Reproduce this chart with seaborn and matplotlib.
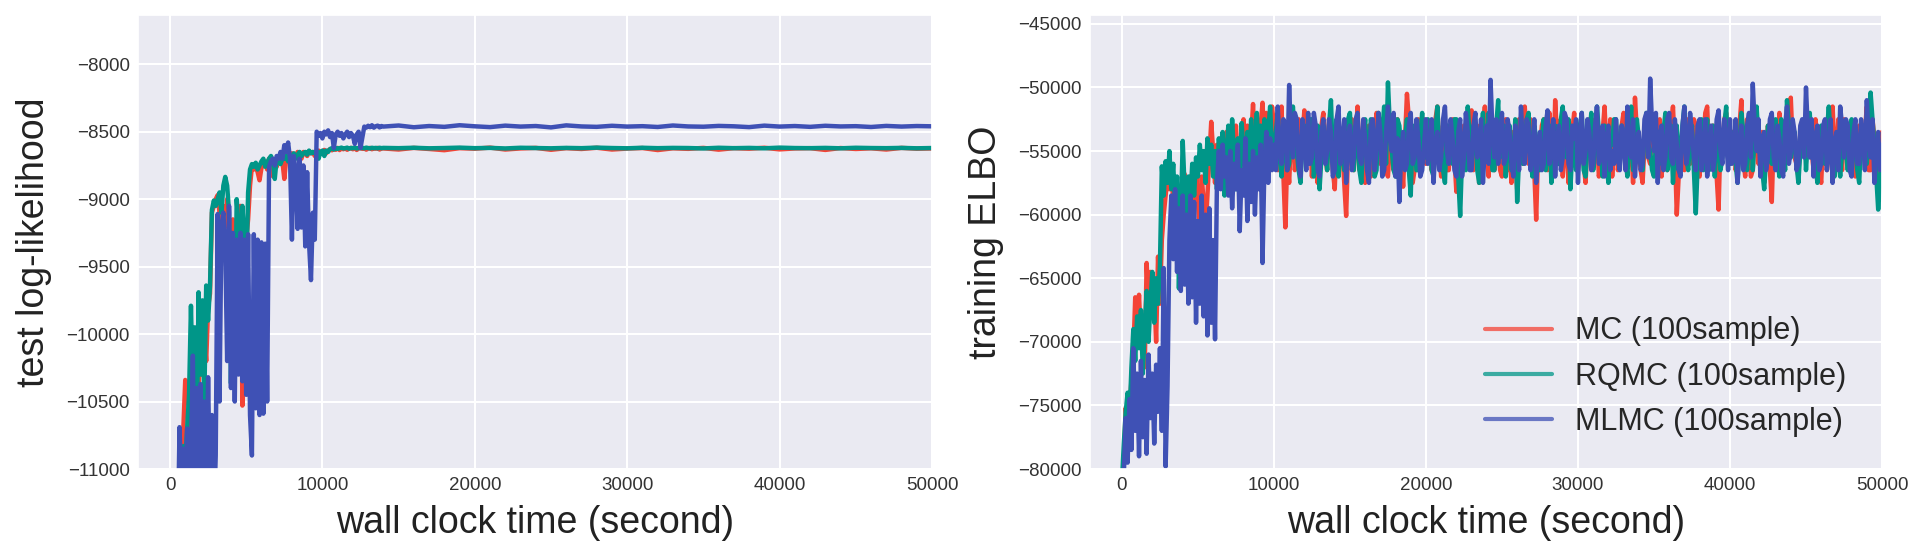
import numpy as np
import pandas as pd
import matplotlib
matplotlib.use("Agg")
import matplotlib.pyplot as plt
from matplotlib.lines import Line2D
import seaborn as sns

# ---------------- data ----------------
methods = ["MC (100sample)", "RQMC (100sample)", "MLMC (100sample)"]
colors = ["#F44336", "#009688", "#3F51B5"]

# left panel: test log-likelihood (time grid: 500..13875 step 125, then 14000..50000 step 1000)
t_left = np.concatenate([np.arange(500, 14000, 125), np.arange(14000, 50001, 1000)])

ll_mc = [-11500, -11300, -10950, -10700, -10340, -10360, -10550, -10800,
         -10500, -10650, -10200, -10400, -10100, -10300, -10000, -10200,
         -9800, -9700, -9100, -9050, -9000, -8970, -9100, -9400,
         -9050, -9200, -9000, -9300, -9500, -9150, -9800, -9400,
         -9250, -9050, -10530, -9700, -9300, -9150, -8900, -8760,
         -8780, -8750, -8800, -8860, -8770, -8740, -8720, -8780,
         -8700, -8740, -8830, -8720, -8760, -8700, -8680, -8720,
         -8850, -8700, -8690, -8720, -8660, -8700, -8680, -8650,
         -8660, -8700, -8650, -8660, -8680, -8645, -8660, -8650,
         -8680, -8650, -8640, -8660, -8650, -8635, -8660, -8640,
         -8630, -8638, -8625, -8634, -8620, -8636, -8624, -8630,
         -8622, -8634, -8625, -8620, -8630, -8622, -8635, -8624,
         -8620, -8627, -8622, -8633, -8625, -8620, -8630, -8622,
         -8626, -8620, -8632, -8624,
         -8624, -8632, -8620, -8628, -8637, -8622, -8626, -8618, -8632, -8624,
         -8620, -8634, -8622, -8628, -8619, -8632, -8625, -8621, -8636, -8623,
         -8627, -8620, -8633, -8622, -8626, -8619, -8631, -8624, -8622, -8635,
         -8621, -8628, -8623, -8632, -8620, -8626, -8624]

ll_rqmc = [-11400, -11100, -10880, -10830, -10950, -10700, -10450, -9790,
           -10450, -9950, -10850, -9690, -10300, -9750, -10500, -9640,
           -9900, -9640, -9080, -9010, -9050, -9000, -8950, -9100,
           -8900, -8835, -8900, -9100, -10365, -9400, -10300, -9000,
           -9200, -10250, -9050, -9300, -9600, -8950, -8780, -8740,
           -8760, -8730, -8780, -8750, -8720, -8700, -8760, -8730,
           -8700, -8680, -8720, -8850, -8700, -8690, -8740, -8700,
           -8700, -8680, -8720, -8670, -8690, -8660, -8700, -8670,
           -8650, -8680, -8660, -8650, -8670, -8640, -8660, -8650,
           -8660, -8640, -8700, -8650, -8640, -8680, -8640, -8650,
           -8628, -8622, -8632, -8620, -8627, -8622, -8618, -8624,
           -8622, -8618, -8626, -8620, -8622, -8617, -8624, -8620,
           -8622, -8619, -8623, -8618, -8621, -8624, -8619, -8622,
           -8620, -8623, -8619, -8622,
           -8620, -8622, -8619, -8623, -8621, -8618, -8622, -8620, -8624, -8619,
           -8621, -8623, -8620, -8622, -8618, -8621, -8623, -8619, -8622, -8620,
           -8621, -8624, -8619, -8622, -8620, -8623, -8618, -8621, -8622, -8620,
           -8623, -8619, -8621, -8622, -8620, -8623, -8621]

ll_mlmc = [-11600, -10690, -11200, -10850, -11300, -10700, -11100, -10900,
           -10160, -11400, -10400, -11200, -10370, -11300, -10500, -11400,
           -10320, -11200, -10600, -11400, -10900, -9110, -10500, -9200,
           -9100, -9350, -10200, -9050, -10400, -9250, -10500, -9300,
           -10300, -9250, -10350, -9300, -10450, -9260, -10600, -10900,
           -9260, -10550, -9300, -10600, -9320, -10590, -9330, -10500,
           -8760, -8720, -8700, -8750, -8680, -8700, -8650, -8700,
           -8600, -8650, -8580, -8700, -9300, -8680, -8800, -9220,
           -8700, -9210, -8750, -9350, -8800, -9330, -9600, -9100,
           -9300, -8500, -8530, -8510, -8550, -8500, -8520, -8490,
           -8540, -8510, -8620, -8520, -8500, -8530, -8510, -8550,
           -8520, -8500, -8540, -8510, -8530, -8590, -8520, -8500,
           -8620, -8540, -8462, -8470, -8456, -8466, -8452, -8470,
           -8460, -8455, -8468, -8458,
           -8462, -8454, -8467, -8458, -8464, -8452, -8460, -8466, -8455, -8462,
           -8458, -8468, -8453, -8461, -8464, -8456, -8462, -8459, -8465, -8454,
           -8461, -8463, -8457, -8460, -8466, -8455, -8462, -8458, -8464, -8456,
           -8461, -8459, -8465, -8457, -8462, -8458, -8460]

# right panel: training ELBO in thousands.
# early part: t = 0..9875 step 125 (80 values)
# band part: t = 10000..50000 step 250 (161 values) plus the in-between samples
#            at t = 10125..49875 step 250 (160 values)
t_right = np.concatenate([np.arange(0, 10000, 125), np.arange(10000, 50001, 125)])

elbo_mc_early_k = [-82.0, -79.5, -75.2, -77.0, -75.5, -73.0, -71.0, -66.5,
                   -69.0, -66.3, -70.0, -68.0, -72.0, -63.8, -67.0, -64.5,
                   -68.0, -66.0, -70.0, -63.3, -67.0, -62.0, -60.0, -58.5,
                   -57.0, -58.0, -56.5, -59.0, -57.5, -60.5, -58.0, -61.0,
                   -59.0, -56.8, -60.0, -57.5, -59.5, -61.0, -58.0, -56.0,
                   -59.0, -61.5, -57.0, -59.0, -61.2, -58.5, -55.5, -52.7,
                   -55.0, -57.5, -54.5, -56.0, -54.0, -57.0, -55.0, -53.5,
                   -56.5, -54.0, -58.0, -55.0, -53.0, -56.0, -57.5, -54.5,
                   -52.5, -55.5, -53.0, -56.0, -54.0, -51.3, -55.0, -52.5,
                   -56.0, -53.0, -51.2, -54.5, -52.0, -55.5, -53.5, -51.5]
elbo_mc_band_k = [-53.0, -56.5, -51.5, -61.0, -57.5, -52.5, -54.5, -56.0, -51.8, -55.5,
                  -57.0, -53.5, -55.5, -52.0, -56.5, -54.0, -58.0, -52.5, -55.0, -60.1,
                  -54.0, -56.5, -51.5, -55.0, -57.5, -53.0, -55.5, -52.0, -56.0, -54.5,
                  -57.0, -52.5, -55.5, -53.5, -57.8, -50.5, -55.0, -56.5, -52.5, -54.5,
                  -56.0, -53.0, -55.5, -51.5, -57.0, -54.0, -56.5, -52.5, -58.2, -54.5,
                  -53.0, -56.0, -51.8, -55.0, -57.5, -53.5, -55.5, -52.0, -56.5, -54.0,
                  -57.0, -52.5, -55.0, -53.5, -58.0, -54.5, -51.5, -56.0, -53.0, -60.4,
                  -55.0, -52.5, -56.5, -54.0, -51.0, -55.5, -57.0, -53.0, -55.5, -52.0,
                  -56.5, -54.0, -57.5, -52.5, -55.0, -53.5, -56.0, -51.5, -55.5, -57.0,
                  -53.0, -55.5, -52.0, -56.0, -54.5, -50.8, -55.0, -57.5, -53.0, -56.0,
                  -52.5, -55.0, -57.0, -53.5, -56.0, -51.5, -60.0, -54.0, -56.5, -52.5,
                  -55.5, -53.0, -57.0, -54.5, -51.5, -56.0, -53.5, -59.6, -55.0, -52.0,
                  -56.0, -53.5, -55.5, -51.0, -57.0, -54.0, -56.5, -52.5, -55.0, -57.5,
                  -53.0, -59.0, -54.5, -52.0, -56.0, -53.5, -50.8, -55.5, -57.0, -53.0,
                  -55.5, -52.5, -56.5, -54.0, -57.5, -53.0, -55.0, -51.5, -56.0, -54.5,
                  -52.5, -56.0, -54.0, -57.0, -53.0, -55.5, -51.5, -56.5, -54.0, -55.5,
                  -53.5]
elbo_mc_mid_k = [-55.0, -53.5, -57.0, -55.5, -54.0, -56.5, -52.5, -54.0, -56.0, -53.0,
                 -54.5, -57.5, -53.0, -55.5, -52.5, -56.5, -54.0, -56.0, -57.5, -55.0,
                 -52.5, -54.0, -56.5, -53.0, -55.5, -57.0, -53.5, -55.0, -52.5, -56.5,
                 -54.5, -56.5, -52.5, -55.5, -54.0, -52.5, -57.5, -53.5, -56.0, -52.5,
                 -54.0, -56.5, -52.5, -55.0, -53.0, -56.5, -54.0, -55.5, -53.0, -56.5,
                 -55.0, -52.5, -56.5, -53.0, -55.5, -51.5, -57.0, -54.0, -52.5, -56.5,
                 -54.0, -56.5, -57.5, -55.5, -52.5, -56.0, -54.0, -52.5, -56.5, -55.0,
                 -53.0, -55.5, -52.0, -57.0, -54.0, -52.5, -55.0, -57.5, -53.5, -56.0,
                 -53.5, -56.0, -54.0, -55.5, -52.5, -57.0, -53.5, -55.0, -52.5, -54.5,
                 -56.5, -53.0, -55.0, -52.5, -57.5, -53.5, -56.5, -54.5, -55.5, -53.0,
                 -55.5, -52.5, -54.5, -56.5, -53.0, -55.0, -57.0, -55.5, -53.0, -56.0,
                 -52.5, -56.5, -54.5, -52.0, -55.5, -53.0, -57.0, -54.0, -52.5, -55.5,
                 -53.5, -56.5, -53.0, -55.5, -52.5, -57.0, -54.0, -56.0, -53.5, -55.0,
                 -56.5, -54.0, -56.5, -53.5, -55.0, -52.0, -54.5, -56.0, -53.5, -55.0,
                 -53.0, -55.0, -52.5, -56.5, -54.0, -56.5, -53.0, -55.0, -52.5, -56.5,
                 -55.0, -53.0, -56.5, -54.5, -55.5, -53.5, -56.5, -52.5, -57.0, -54.0]

elbo_rqmc_early_k = [-81.0, -78.0, -75.5, -74.0, -76.0, -72.0, -69.0, -71.5,
                     -68.0, -70.5, -67.5, -72.5, -69.0, -66.0, -70.0, -67.0,
                     -64.5, -68.5, -65.0, -67.0, -64.0, -56.2, -58.5, -55.8,
                     -57.5, -55.0, -58.0, -56.0, -59.5, -57.0, -65.8, -60.0,
                     -54.2, -58.0, -62.0, -57.0, -59.0, -56.0, -58.5, -55.5,
                     -57.0, -54.5, -56.5, -55.0, -57.5, -54.0, -56.0, -54.5,
                     -57.0, -55.0, -58.0, -54.0, -56.0, -53.5, -58.5, -55.0,
                     -53.0, -56.5, -52.5, -55.5, -58.0, -54.0, -56.5, -52.8,
                     -55.0, -57.5, -53.5, -56.0, -52.5, -58.5, -54.0, -52.0,
                     -55.5, -53.0, -57.0, -52.5, -55.0, -53.5, -51.5, -55.0]
elbo_rqmc_band_k = [-55.5, -52.0, -57.0, -53.5, -56.0, -51.5, -55.0, -57.5, -53.0, -56.0,
                    -52.5, -55.5, -58.0, -53.0, -56.5, -51.0, -55.0, -57.0, -53.5, -55.5,
                    -52.0, -56.5, -54.0, -57.5, -52.5, -55.0, -53.0, -56.5, -54.5, -51.5,
                    -49.6, -55.0, -57.0, -53.0, -56.0, -52.5, -58.5, -54.0, -56.5, -52.0,
                    -55.5, -53.5, -57.0, -51.5, -55.0, -57.5, -53.0, -56.0, -52.5, -60.1,
                    -54.5, -51.5, -56.0, -53.5, -57.5, -52.0, -55.5, -54.0, -56.5, -51.0,
                    -55.0, -57.0, -53.0, -56.0, -59.0, -53.5, -55.5, -52.0, -57.0, -54.0,
                    -56.5, -52.5, -55.0, -57.5, -53.0, -56.0, -51.5, -55.5, -58.0, -53.5,
                    -55.5, -52.0, -57.0, -54.0, -56.5, -51.5, -55.0, -53.0, -57.5, -54.5,
                    -52.5, -56.0, -53.5, -57.0, -51.5, -55.5, -54.0, -56.5, -52.0, -55.0,
                    -57.0, -53.5, -56.0, -52.0, -55.5, -57.5, -53.0, -55.0, -51.5, -56.5,
                    -53.0, -59.9, -54.5, -56.5, -52.5, -55.0, -57.0, -53.0, -55.5, -51.5,
                    -56.0, -53.5, -57.5, -52.0, -55.0, -54.0, -56.5, -51.5, -55.5, -58.0,
                    -53.0, -56.0, -52.5, -57.0, -54.5, -51.0, -55.5, -53.5, -57.5, -54.0,
                    -56.5, -52.0, -55.0, -57.5, -53.0, -56.0, -51.5, -55.5, -54.0, -57.0,
                    -53.5, -56.5, -52.5, -55.0, -57.5, -53.0, -56.0, -50.4, -54.5, -59.6,
                    -55.0]
elbo_rqmc_mid_k = [-53.5, -55.5, -54.5, -56.5, -52.5, -54.0, -56.5, -54.0, -55.0, -52.5,
                   -57.0, -53.0, -55.5, -54.5, -53.0, -55.5, -52.5, -54.5, -56.5, -52.5,
                   -55.0, -53.0, -56.5, -54.0, -55.5, -52.5, -57.0, -52.0, -53.5, -56.0,
                   -53.0, -56.5, -52.5, -55.5, -54.0, -56.5, -53.0, -56.5, -54.0, -55.5,
                   -52.5, -56.5, -53.5, -55.0, -56.5, -53.0, -55.5, -52.5, -57.0, -55.5,
                   -56.5, -54.0, -53.0, -56.5, -54.0, -55.5, -52.0, -56.5, -53.0, -55.5,
                   -53.0, -54.5, -56.5, -52.5, -55.5, -56.0, -52.5, -55.0, -53.0, -56.5,
                   -54.0, -56.5, -53.0, -54.5, -56.0, -52.5, -55.0, -52.5, -55.0, -56.5,
                   -53.0, -56.5, -54.5, -52.0, -55.0, -53.5, -57.0, -55.5, -54.0, -52.5,
                   -55.5, -53.0, -55.5, -54.0, -56.5, -52.5, -56.0, -53.5, -54.5, -56.5,
                   -54.5, -55.0, -53.5, -56.5, -53.0, -54.5, -56.5, -53.0, -55.5, -54.0,
                   -56.5, -56.0, -52.5, -54.0, -56.5, -53.0, -54.5, -56.5, -53.0, -55.5,
                   -54.0, -56.0, -54.5, -53.5, -56.5, -52.0, -53.5, -54.0, -56.5, -55.5,
                   -55.0, -53.5, -55.5, -52.5, -56.5, -53.0, -54.5, -56.0, -55.0, -52.5,
                   -54.0, -55.5, -56.0, -54.5, -55.5, -53.5, -54.0, -57.0, -55.5, -55.0,
                   -55.0, -54.5, -53.5, -56.5, -54.0, -54.5, -53.0, -52.5, -57.0, -57.5]

elbo_mlmc_early_k = [-83.0, -80.5, -76.0, -79.5, -74.5, -78.5, -70.5, -77.0,
                     -72.5, -79.0, -71.5, -77.5, -73.0, -78.8, -71.0, -76.0,
                     -72.5, -78.0, -71.8, -75.5, -70.5, -77.0, -64.2, -79.8,
                     -73.5, -62.0, -58.5, -63.5, -58.0, -64.5, -59.5, -66.0,
                     -58.5, -65.5, -60.0, -67.0, -58.5, -66.5, -59.0, -68.5,
                     -60.5, -67.0, -58.5, -68.0, -60.0, -69.5, -59.5, -68.5,
                     -62.0, -69.8, -57.5, -55.0, -58.0, -54.5, -57.0, -55.5,
                     -58.5, -55.0, -59.5, -56.0, -58.0, -54.5, -61.3, -56.5,
                     -58.5, -54.0, -60.5, -56.0, -59.0, -55.0, -60.0, -55.5,
                     -58.0, -54.5, -63.8, -56.0, -53.5, -57.5, -54.0, -56.5]
elbo_mlmc_band_k = [-54.5, -51.5, -56.0, -53.0, -49.8, -55.5, -52.5, -57.0, -54.0, -52.0,
                    -55.5, -53.0, -57.0, -52.5, -55.0, -53.5, -56.5, -51.5, -54.5, -57.5,
                    -53.0, -55.5, -52.0, -56.0, -54.0, -57.5, -52.5, -55.0, -53.5, -56.5,
                    -51.5, -55.0, -57.0, -59.0, -53.5, -56.0, -52.0, -55.5, -54.0, -56.5,
                    -52.5, -55.0, -57.5, -53.5, -55.5, -51.5, -56.0, -54.0, -57.0, -52.5,
                    -55.5, -53.5, -56.5, -52.0, -55.0, -57.5, -53.0, -49.4, -55.5, -56.0,
                    -52.0, -55.5, -53.5, -57.0, -54.0, -51.5, -56.0, -53.0, -55.5, -57.5,
                    -53.5, -56.0, -51.8, -55.0, -57.0, -53.0, -55.5, -52.5, -56.5, -54.0,
                    -57.5, -52.0, -55.0, -53.5, -56.0, -51.5, -55.5, -57.0, -53.0, -55.0,
                    -52.5, -56.5, -54.0, -51.5, -55.5, -57.0, -53.5, -56.0, -52.0, -49.3,
                    -55.0, -57.5, -53.0, -55.5, -52.0, -56.0, -54.5, -57.0, -51.5, -55.0,
                    -53.5, -56.5, -52.5, -55.0, -57.0, -53.0, -55.5, -51.8, -56.0, -54.0,
                    -52.5, -55.5, -57.5, -53.0, -56.0, -52.0, -49.7, -55.0, -57.0, -53.5,
                    -55.5, -52.0, -56.5, -54.0, -57.0, -51.5, -55.0, -53.5, -56.0, -52.5,
                    -50.0, -55.5, -57.0, -53.0, -56.0, -52.5, -55.0, -57.5, -53.5, -51.5,
                    -55.5, -53.0, -57.0, -52.5, -56.0, -54.0, -51.0, -55.5, -57.5, -53.5,
                    -54.5]
elbo_mlmc_mid_k = [-56.5, -55.0, -52.5, -56.5, -54.0, -52.0, -56.0, -52.5, -56.5, -56.0,
                   -52.0, -56.5, -53.5, -56.0, -52.5, -57.0, -52.5, -56.0, -52.5, -54.0,
                   -56.5, -52.5, -55.5, -52.5, -56.5, -53.0, -56.5, -52.0, -57.0, -53.5,
                   -54.0, -52.0, -54.0, -55.0, -56.5, -53.0, -56.0, -52.5, -57.0, -54.5,
                   -56.0, -52.5, -54.5, -56.5, -52.5, -55.0, -52.5, -56.5, -53.5, -57.0,
                   -52.0, -56.5, -53.0, -55.5, -52.5, -54.5, -56.0, -53.5, -52.5, -54.0,
                   -56.0, -52.5, -56.0, -53.0, -56.5, -54.5, -52.5, -56.5, -52.5, -54.5,
                   -56.5, -53.0, -56.0, -52.5, -54.0, -56.5, -52.0, -56.0, -53.0, -52.5,
                   -54.0, -56.0, -52.5, -56.5, -53.0, -56.0, -53.0, -54.0, -56.5, -56.0,
                   -55.5, -53.0, -56.5, -55.0, -52.5, -54.5, -56.5, -52.5, -55.5, -53.0,
                   -52.0, -54.0, -56.5, -52.5, -55.5, -52.5, -56.5, -53.0, -56.0, -52.0,
                   -55.5, -53.0, -56.5, -52.5, -54.5, -56.5, -52.5, -55.0, -52.5, -56.5,
                   -56.0, -52.5, -54.5, -56.5, -53.0, -55.5, -53.0, -52.5, -54.0, -56.5,
                   -52.5, -55.5, -53.0, -56.5, -53.0, -56.0, -52.5, -56.5, -53.0, -55.5,
                   -53.5, -52.5, -54.0, -56.5, -53.0, -56.5, -52.5, -54.5, -56.5, -53.0,
                   -52.5, -56.5, -53.5, -56.0, -52.5, -56.5, -54.0, -52.5, -55.0, -56.5]

left_xticks = [0, 10000, 20000, 30000, 40000, 50000]
left_yticks = [-11000, -10500, -10000, -9500, -9000, -8500, -8000]
right_yticks = [-80000, -75000, -70000, -65000, -60000, -55000, -50000, -45000]


def merge_band(early, band, mid):
    out = list(early)
    for b, m in zip(band, mid):
        out.extend([b, m])
    out.append(band[-1])
    return out


elbo_mc_k = merge_band(elbo_mc_early_k, elbo_mc_band_k, elbo_mc_mid_k)
elbo_rqmc_k = merge_band(elbo_rqmc_early_k, elbo_rqmc_band_k, elbo_rqmc_mid_k)
elbo_mlmc_k = merge_band(elbo_mlmc_early_k, elbo_mlmc_band_k, elbo_mlmc_mid_k)

# ---------------- style ----------------
sns.set_theme(style="darkgrid", rc={"axes.facecolor": "#EAEAF2",
                                    "grid.color": "white",
                                    "grid.linewidth": 1.5})
plt.rcParams["font.family"] = ["Liberation Sans", "DejaVu Sans"]
plt.rcParams["path.simplify"] = False

fig = plt.figure(figsize=(19.26, 5.55), dpi=100)
ax1 = fig.add_axes([138 / 1926, 86 / 555, 794 / 1926, 454 / 555])
ax2 = fig.add_axes([1090 / 1926, 86 / 555, 792 / 1926, 454 / 555])


def draw(ax, t, series, scale):
    for name, vals, c in zip(methods, series, colors):
        v = np.asarray(vals, dtype=float) * scale
        n = min(len(t), len(v))
        if len(t) != len(v):
            print("length mismatch", name, len(t), len(v))
        sns.lineplot(x=t[:n], y=v[:n], ax=ax, color=c, linewidth=3.2,
                     estimator=None, sort=False, legend=False)


draw(ax1, t_left, [ll_mc, ll_rqmc, ll_mlmc], 1.0)
draw(ax2, t_right, [elbo_mc_k, elbo_rqmc_k, elbo_mlmc_k], 1000.0)

for ax in (ax1, ax2):
    ax.set_xlim(-2100, 50000)
    ax.set_xticks(left_xticks)
    ax.tick_params(axis="both", labelsize=13.5, labelcolor="#333333", length=0, pad=6)
    ax.set_xlabel("wall clock time (second)", fontsize=27, color="#222222", labelpad=8)

ax1.set_ylim(-11000, -7635)
ax1.set_yticks(left_yticks)
ax1.set_ylabel("test log-likelihood", fontsize=27, color="#222222", labelpad=10)

ax2.set_ylim(-80000, -44300)
ax2.set_yticks(right_yticks)
ax2.set_ylabel("training ELBO", fontsize=27, color="#222222", labelpad=10)

handles = [Line2D([0], [0], color=c, lw=3, alpha=0.75) for c in colors]
ax2.legend(handles, methods, loc="lower right", fontsize=22, frameon=False,
           handlelength=2.2, handletextpad=0.75, labelspacing=0.5,
           bbox_to_anchor=(0.99, 0.01))

fig.savefig("out.png", dpi=100)
